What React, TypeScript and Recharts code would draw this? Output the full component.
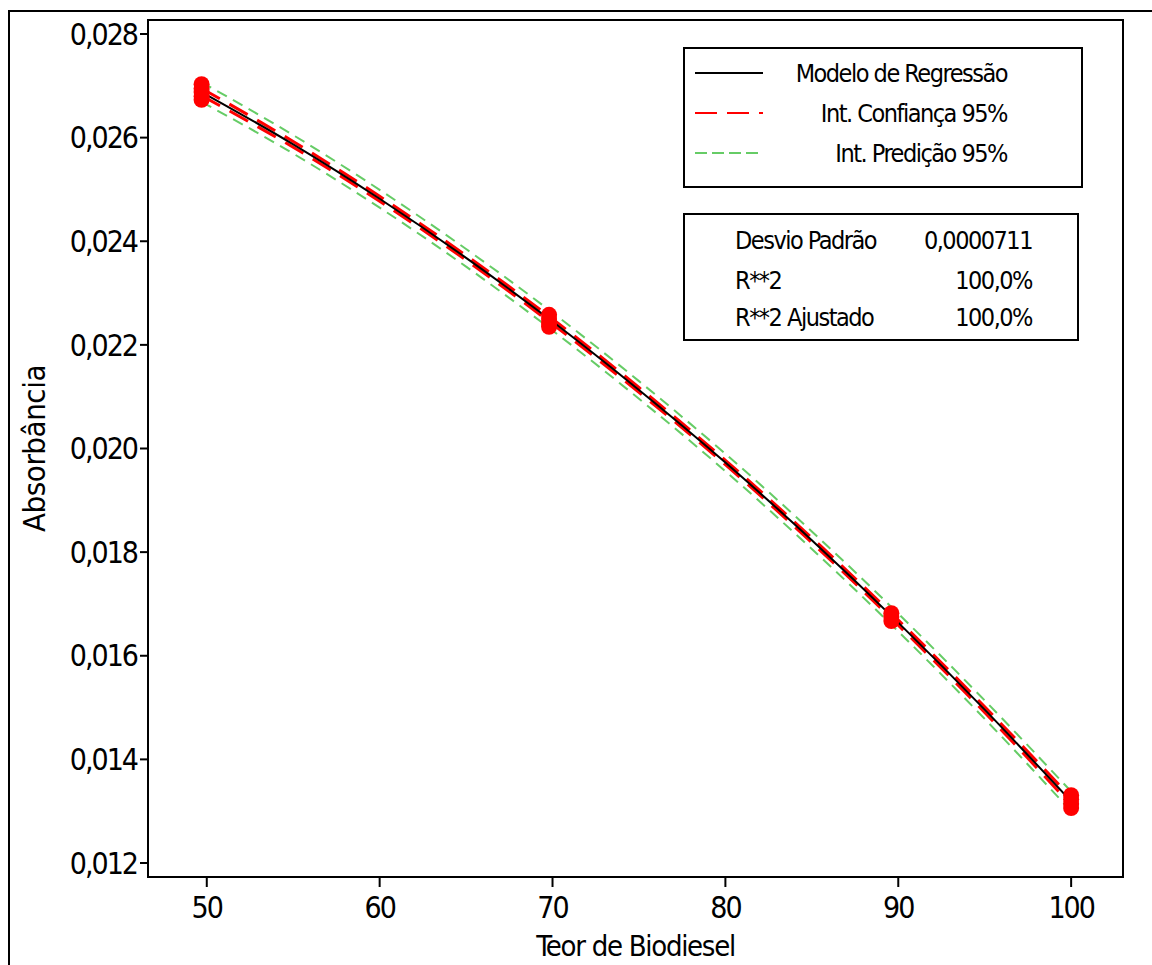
import * as React from "react";
import {
  ComposedChart, Line, Scatter, XAxis, YAxis, ReferenceArea, Legend,
} from "recharts";

// x values of the fitted curve and its bands
const curveX = [49.7, 55, 60, 65, 70, 75, 80, 85, 90, 95, 100];
const fitY = [0.02688, 0.02587, 0.02482, 0.02368, 0.02245, 0.02113, 0.01973, 0.01823, 0.01664, 0.01496, 0.01319];
const ciLow = [0.02681, 0.025815, 0.024773, 0.023635, 0.0224, 0.021083, 0.019688, 0.018184, 0.01659, 0.014905, 0.01312];
const ciHigh = [0.02695, 0.025925, 0.024867, 0.023725, 0.0225, 0.021177, 0.019772, 0.018276, 0.01669, 0.015015, 0.01326];
const piLow = [0.02669, 0.025692, 0.024648, 0.02351, 0.022278, 0.02096, 0.019562, 0.01806, 0.016468, 0.014782, 0.013];
const piHigh = [0.02707, 0.026048, 0.024992, 0.02385, 0.022622, 0.0213, 0.019898, 0.0184, 0.016812, 0.015138, 0.01338];

// observed points (replicates)
const obsX = [49.7, 49.7, 49.7, 49.7, 49.7, 69.8, 69.8, 69.8, 69.8, 89.6, 89.6, 89.6, 100, 100, 100, 100];
const obsY = [0.02703, 0.02695, 0.02688, 0.0268, 0.02673, 0.02258, 0.0225, 0.02242, 0.02235, 0.01682, 0.01675, 0.01667, 0.01331, 0.01323, 0.01314, 0.01306];

const xTicks = [50, 60, 70, 80, 90, 100];
const yTicks = [0.012, 0.014, 0.016, 0.018, 0.02, 0.022, 0.024, 0.026, 0.028];

const legendNames = ["Modelo de Regressão", "Int. Confiança 95%", "Int. Predição 95%"];
const statLabels = ["Desvio Padrão", "R**2", "R**2 Ajustado"];
const statValues = ["0,0000711", "100,0%", "100,0%"];

const FONT = '"DejaVu Sans Condensed", "DejaVu Sans", sans-serif';
const RED = "#ff0000";
const GREEN = "#66cc66";

const curve = curveX.map((x, i) => ({
  x, fit: fitY[i], ciLo: ciLow[i], ciHi: ciHigh[i], piLo: piLow[i], piHi: piHigh[i],
}));
const points = obsX.map((x, i) => ({ x, y: obsY[i] }));

const legendStyle: Record<string, { color: string; dash?: string; w: number }> = {
  [legendNames[0]]: { color: "#000", w: 2 },
  [legendNames[1]]: { color: RED, dash: "22 10", w: 2 },
  [legendNames[2]]: { color: GREEN, dash: "12 5", w: 2 },
};

const textStyle: React.CSSProperties = {
  fontFamily: FONT, fontStretch: "condensed", fontSize: 25, letterSpacing: -1.5,
  color: "#000", whiteSpace: "nowrap", lineHeight: 1,
};

function LegendBoxes() {
  return (
    <div style={{ position: "relative", width: 400 }}>
      <div style={{ position: "absolute", left: 0, top: 0, width: 400, height: 141, boxSizing: "border-box", border: "2px solid #000", background: "#fff" }}>
        {legendNames.map((name, i) => {
          const s = legendStyle[name];
          return (
            <div key={name} style={{ position: "absolute", left: 8, top: 24 + i * 40 - 14, width: 314, height: 28, display: "flex", alignItems: "center" }}>
              <svg width={72} height={6} style={{ display: "block" }}>
                <line x1={2} y1={3} x2={70} y2={3} stroke={s.color} strokeWidth={s.w} strokeDasharray={s.dash} />
              </svg>
              <span style={{ ...textStyle, marginLeft: "auto" }}>{name}</span>
            </div>
          );
        })}
      </div>
      <div style={{ position: "absolute", left: 0, top: 166, width: 396, height: 128, boxSizing: "border-box", border: "2px solid #000", background: "#fff" }}>
        {statLabels.map((lab, i) => (
          <div key={lab} style={{ position: "absolute", left: 50, top: [25, 65, 102][i] - 14, width: 297, height: 28, display: "flex", alignItems: "center" }}>
            <span style={textStyle}>{lab}</span>
            <span style={{ ...textStyle, marginLeft: "auto" }}>{statValues[i]}</span>
          </div>
        ))}
      </div>
    </div>
  );
}

const fmtY = (v: number) => v.toFixed(3).replace(".", ",");
const tickStyle = { fill: "#000", fontSize: 30, fontFamily: FONT, fontStretch: "condensed", letterSpacing: -2 } as any;

export default function App() {
  return (
    <div style={{ position: "absolute", left: 0, top: 0, width: 1152, height: 965, overflow: "hidden", background: "#fff" }}>
      <div style={{ position: "absolute", left: 8, top: 10, width: 1300, height: 1100, border: "2px solid #000", boxSizing: "border-box" }} />
      <ComposedChart width={1152} height={965} data={curve} margin={{ top: 20, right: 29, bottom: 0, left: 8 }}>
        <XAxis
          dataKey="x" type="number" domain={[46.6, 103]} ticks={xTicks} allowDataOverflow
          height={88} axisLine={false} tickSize={10} tickMargin={10}
          tickLine={{ stroke: "#000", strokeWidth: 2 }} tick={tickStyle}
          label={{
            content: ({ viewBox }: any) => (
              <text x={viewBox.x + viewBox.width / 2} y={956} textAnchor="middle" fontSize={29} fontFamily={FONT} style={{ fontStretch: "condensed", letterSpacing: -1.3 }} fill="#000">
                Teor de Biodiesel
              </text>
            ),
          }}
        />
        <YAxis
          type="number" domain={[0.01173, 0.02827]} ticks={yTicks} allowDataOverflow
          width={140} axisLine={false} tickSize={8} tickMargin={3}
          tickLine={{ stroke: "#000", strokeWidth: 2 }} tick={tickStyle} tickFormatter={fmtY}
          label={{
            content: ({ viewBox }: any) => {
              const cx = 34;
              const cy = viewBox.y + viewBox.height / 2;
              return (
                <text x={cx} y={cy} transform={`rotate(-90 ${cx} ${cy})`} textAnchor="middle" dominantBaseline="central" fontSize={31} fontFamily={FONT} style={{ fontStretch: "condensed", letterSpacing: -0.5 }} fill="#000">
                  Absorbância
                </text>
              );
            },
          }}
        />
        <ReferenceArea x1={46.6} x2={103} y1={0.01173} y2={0.02827} fill="none" fillOpacity={0} stroke="#000" strokeWidth={2} ifOverflow="visible" />
        <Line dataKey="piLo" name={legendNames[2]} stroke={GREEN} strokeWidth={2} strokeDasharray="11 7" dot={false} type="monotone" isAnimationActive={false} />
        <Line dataKey="piHi" legendType="none" stroke={GREEN} strokeWidth={2} strokeDasharray="11 7" dot={false} type="monotone" isAnimationActive={false} />
        <Line dataKey="ciLo" name={legendNames[1]} stroke={RED} strokeWidth={3} strokeDasharray="21 11" dot={false} type="monotone" isAnimationActive={false} />
        <Line dataKey="ciHi" legendType="none" stroke={RED} strokeWidth={3} strokeDasharray="21 11" dot={false} type="monotone" isAnimationActive={false} />
        <Line dataKey="fit" name={legendNames[0]} stroke="#000" strokeWidth={2} dot={false} type="monotone" isAnimationActive={false} />
        <Scatter
          data={points} dataKey="y" legendType="none" isAnimationActive={false}
          shape={(p: any) => <circle cx={p.cx} cy={p.cy} r={8} fill={RED} />}
        />
        <Legend layout="vertical" align="center" verticalAlign="middle" wrapperStyle={{ left: 683, top: 47, width: 400 }} content={() => <LegendBoxes />} />
      </ComposedChart>
    </div>
  );
}
